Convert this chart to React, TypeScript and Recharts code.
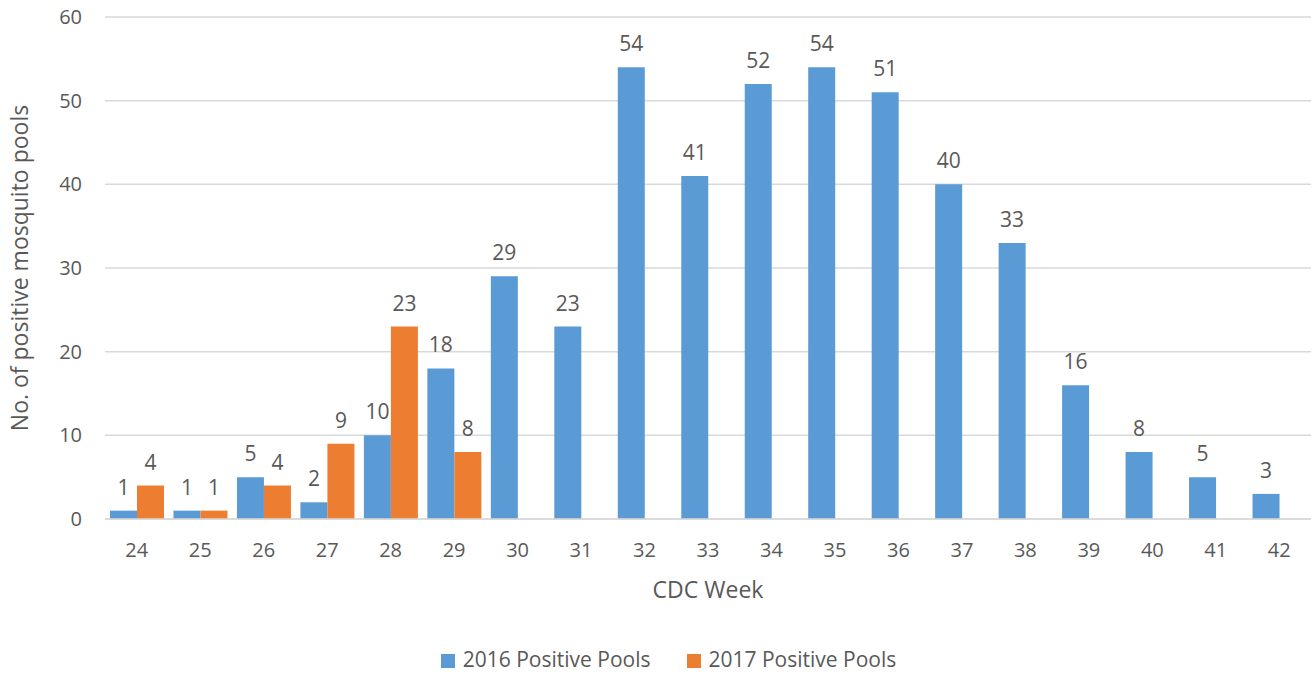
import React from "react";
import {
  BarChart,
  Bar,
  XAxis,
  YAxis,
  CartesianGrid,
  Legend,
  LabelList,
} from "recharts";

document.body.style.margin = "0";

const weeks = ["24", "25", "26", "27", "28", "29", "30", "31", "32", "33", "34", "35", "36", "37", "38", "39", "40", "41", "42"];
const pools2016 = [1, 1, 5, 2, 10, 18, 29, 23, 54, 41, 52, 54, 51, 40, 33, 16, 8, 5, 3];
const pools2017: (number | null)[] = [4, 1, 4, 9, 23, 8, null, null, null, null, null, null, null, null, null, null, null, null, null];
const yTicks = [0, 10, 20, 30, 40, 50, 60];

const data = weeks.map((w, i) => ({
  week: w,
  p2016: pools2016[i],
  p2017: pools2017[i],
}));

const FONT = "'Open Sans', sans-serif";
const TEXT = "#595959";

export default function App() {
  return (
    <div style={{ width: 1314, height: 673, fontFamily: FONT, background: "#fff" }}>
      <BarChart
        width={1314}
        height={673}
        data={data}
        margin={{ top: 17, right: 3, left: 0, bottom: 0 }}
        barCategoryGap={5}
        barGap={0}
      >
        <CartesianGrid vertical={false} stroke="#D9D9D9" strokeWidth={1.5} />
        <XAxis
          dataKey="week"
          height={90}
          tickLine={false}
          tickSize={0}
          tickMargin={24}
          axisLine={{ stroke: "#D9D9D9", strokeWidth: 1.5 }}
          tick={{ fill: TEXT, fontSize: 20, fontFamily: FONT }}
          label={{
            value: "CDC Week",
            position: "insideBottom",
            offset: 11,
            fill: TEXT,
            fontSize: 23,
            fontFamily: FONT,
          }}
        />
        <YAxis
          width={105}
          domain={[0, 60]}
          ticks={yTicks}
          axisLine={false}
          tickLine={false}
          tickSize={0}
          tickMargin={23}
          tick={{ fill: TEXT, fontSize: 20, fontFamily: FONT }}
          label={{
            value: "No. of positive mosquito pools",
            angle: -90,
            position: "insideLeft",
            offset: 20,
            fill: TEXT,
            fontSize: 23,
            fontFamily: FONT,
            style: { textAnchor: "middle" },
          }}
        />
        <Legend
          verticalAlign="bottom"
          height={64}
          iconType="square"
          iconSize={14}
          wrapperStyle={{ top: 645, left: 18, fontSize: 21, fontFamily: FONT }}
          formatter={(value, entry, index) => (
            <span style={{ color: TEXT, marginLeft: 4, marginRight: index === 0 ? 26 : 0 }}>{value}</span>
          )}
        />
        <Bar dataKey="p2016" name="2016 Positive Pools" fill="#5B9BD5" isAnimationActive={false}>
          <LabelList dataKey="p2016" position="top" offset={16} fill={TEXT} fontSize={21} fontFamily={FONT} />
        </Bar>
        <Bar dataKey="p2017" name="2017 Positive Pools" fill="#ED7D31" isAnimationActive={false}>
          <LabelList dataKey="p2017" position="top" offset={16} fill={TEXT} fontSize={21} fontFamily={FONT} />
        </Bar>
      </BarChart>
    </div>
  );
}
